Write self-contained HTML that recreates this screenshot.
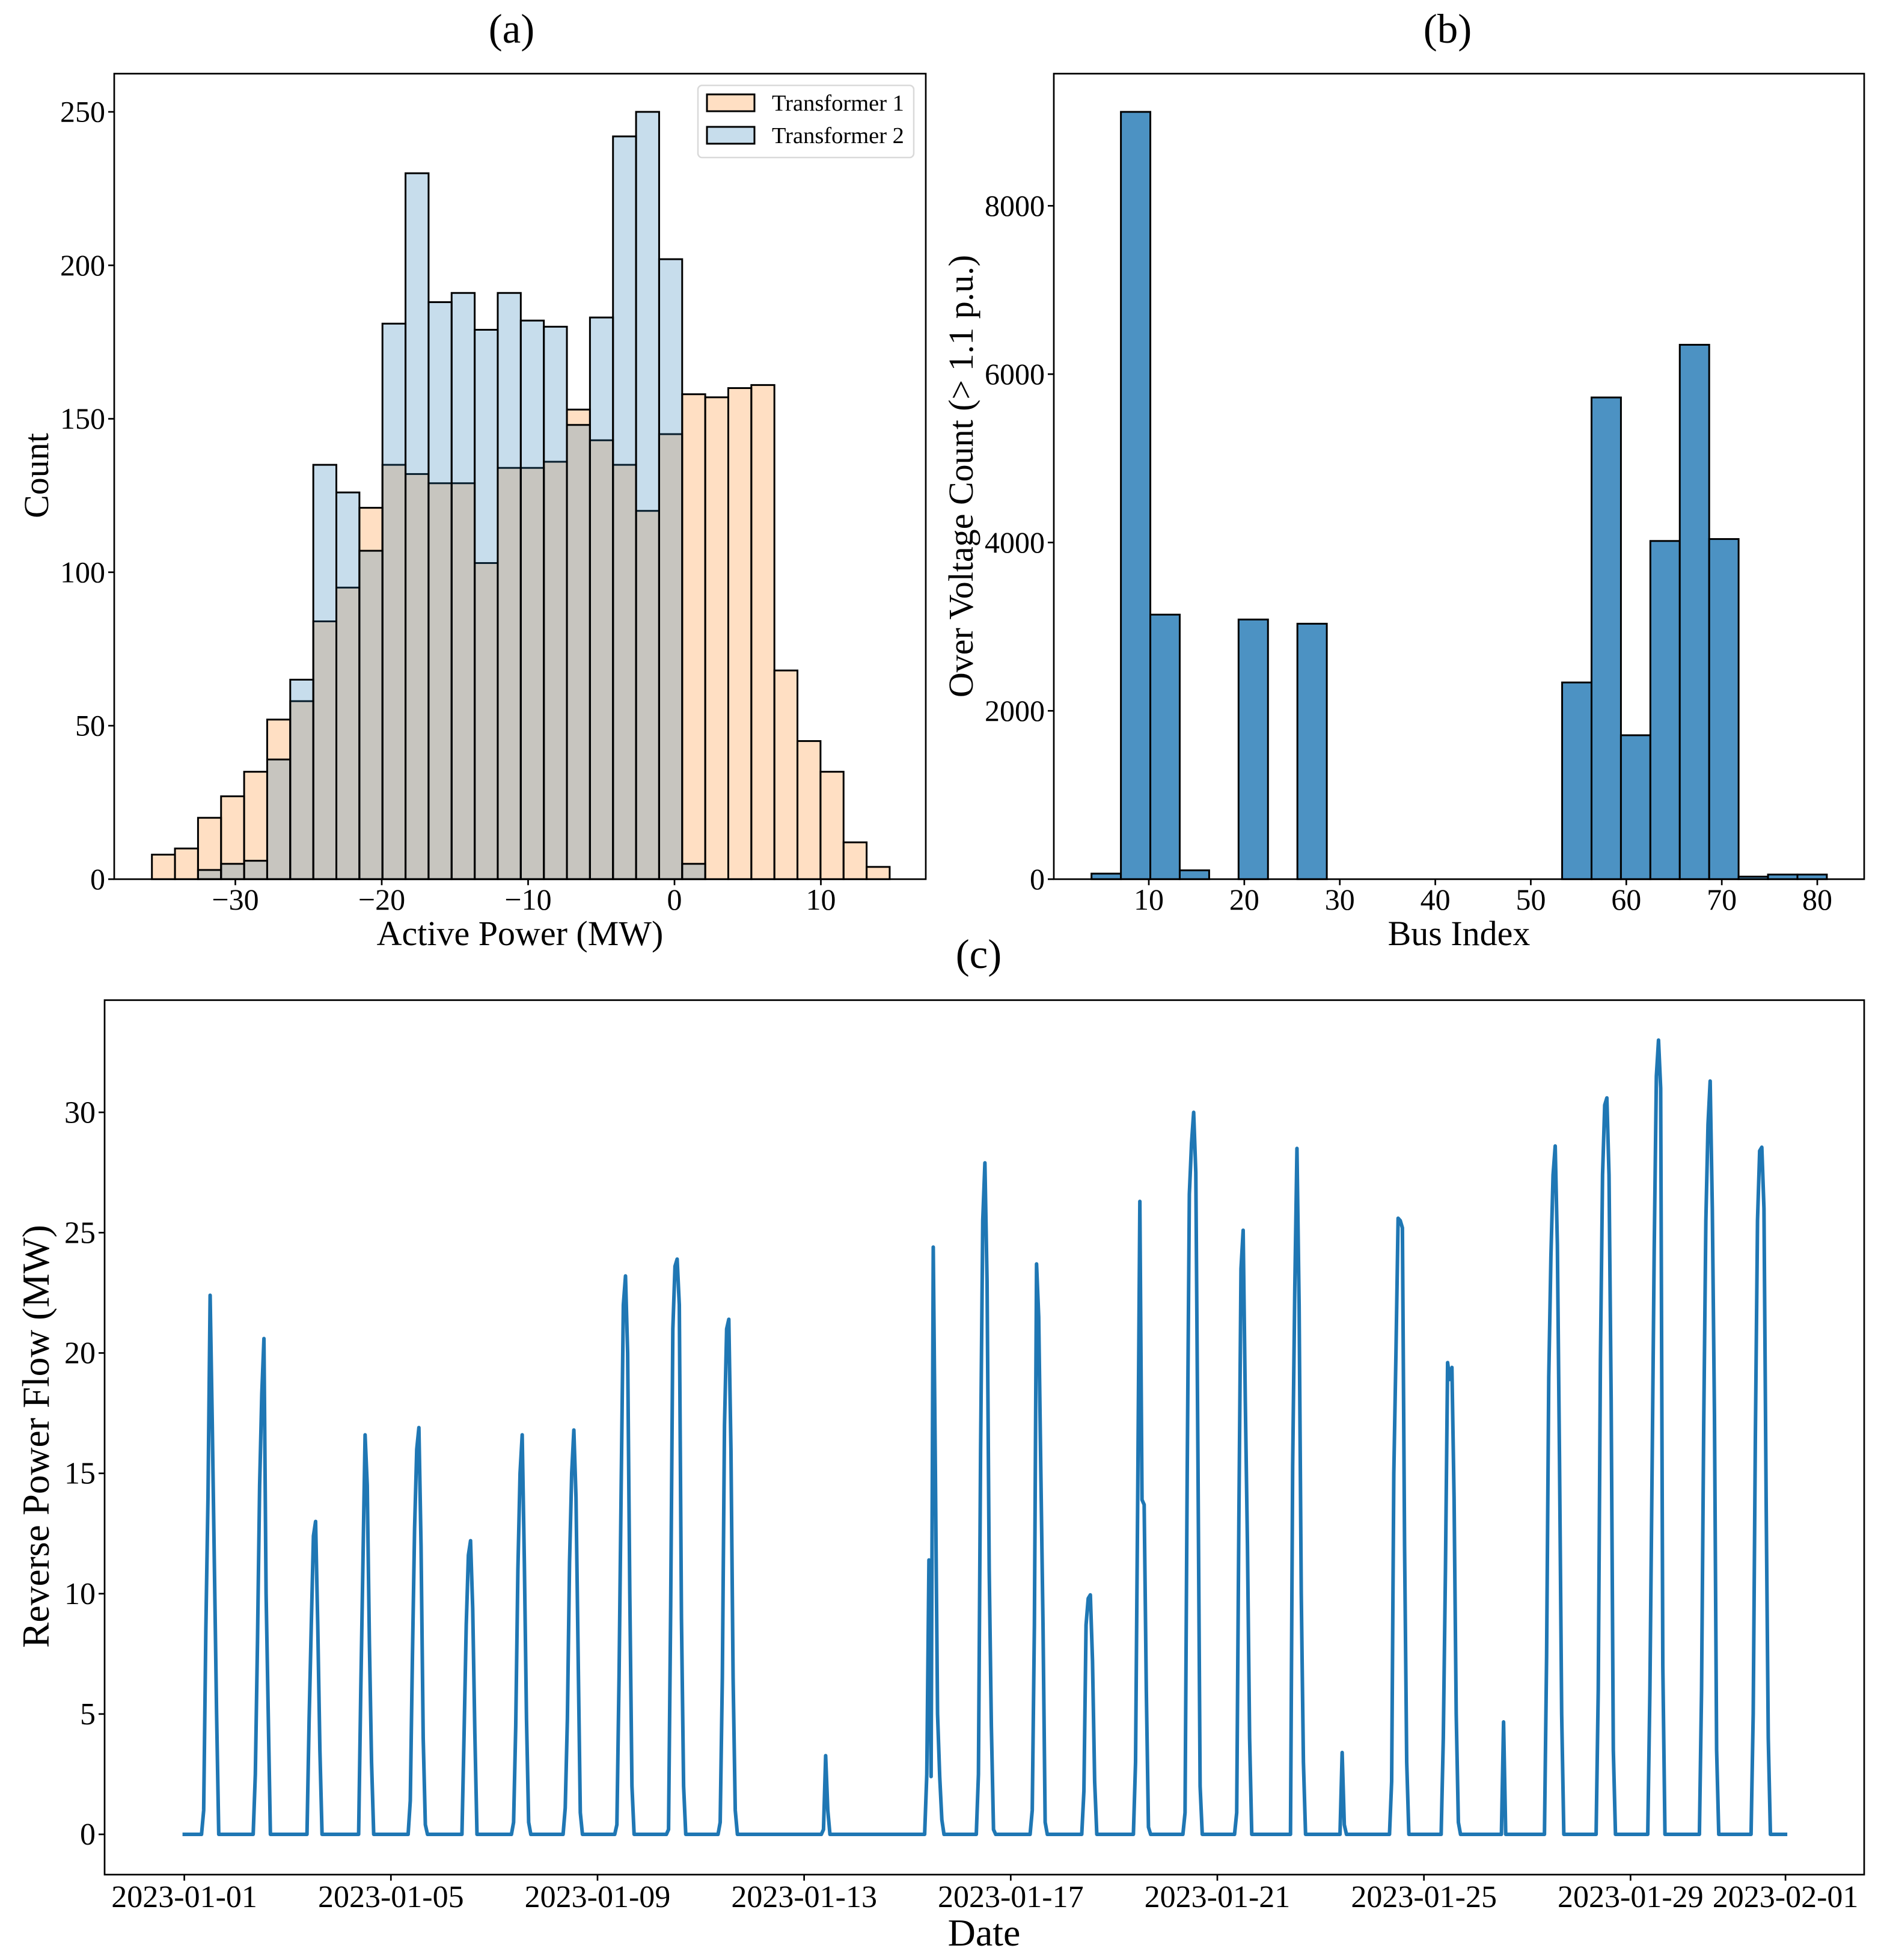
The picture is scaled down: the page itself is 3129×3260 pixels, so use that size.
<!DOCTYPE html>
<html lang="en">
<head>
<meta charset="utf-8">
<title>Transformer power, over-voltage and reverse power flow</title>
<style>
  html, body { margin: 0; padding: 0; background: #fff; }
  svg { display: block; font-family: "Liberation Serif", "Times New Roman", serif; }
  text { fill: #000; }
</style>
</head>
<body>
<svg id="chart" xmlns="http://www.w3.org/2000/svg" width="3129" height="3260" viewBox="0 0 3129 3260">
  <rect x="0" y="0" width="3129" height="3260" fill="#fff"/>
  <g id="panel-a"></g>
  <g id="panel-b"></g>
  <g id="panel-c"></g>

  <text x="851" y="71" font-size="69" text-anchor="middle">(a)</text>
  <text x="2408" y="71" font-size="69" text-anchor="middle">(b)</text>
  <text x="1628" y="1610" font-size="69" text-anchor="middle">(c)</text>

  <text x="865" y="1572" font-size="58" text-anchor="middle">Active Power (MW)</text>
  <text transform="translate(80,791) rotate(-90)" font-size="58" text-anchor="middle">Count</text>
  <text x="2427" y="1572" font-size="58" text-anchor="middle">Bus Index</text>
  <text transform="translate(1618,792) rotate(-90)" font-size="58" text-anchor="middle">Over Voltage Count (&gt; 1.1 p.u.)</text>
  <text x="1637" y="3236" font-size="64" text-anchor="middle">Date</text>
  <text transform="translate(81,2389) rotate(-90)" font-size="63.5" text-anchor="middle">Reverse Power Flow (MW)</text>

  <g>
    <rect x="1161" y="142" width="359" height="120" rx="7" ry="7" fill="#fff" fill-opacity="0.8" stroke="#d9d9d9" stroke-width="2.5"/>
    <rect x="1176" y="157" width="79" height="28" fill="#ff7f0e" fill-opacity="0.25" stroke="#000" stroke-width="3"/>
    <text x="1284" y="184" font-size="38.5">Transformer 1</text>
    <rect x="1176" y="211" width="79" height="28" fill="#1f77b4" fill-opacity="0.25" stroke="#000" stroke-width="3"/>
    <text x="1284" y="238" font-size="38.5">Transformer 2</text>
  </g>
</svg>

<script>
// ---- Panel (a): active power histogram ----
const powerBinStart = -35.7;
const powerBinWidth = 1.575;
const transformer1Counts = [8,10,20,27,35,52,58,84,95,121,135,132,129,129,103,134,134,136,153,143,135,120,145,158,157,160,161,68,45,35,12,4];
const transformer2Counts = [0,0,3,5,6,39,65,135,126,107,181,230,188,191,179,191,182,180,148,183,242,250,202,5,0,0,0,0,0,0,0,0];
const powerXTicks = [-30,-20,-10,0,10];
const countYTicks = [0,50,100,150,200,250];

// ---- Panel (b): over-voltage histogram ----
const busBinStart = 4;
const busBinWidth = 3.08;
const overVoltageCounts = [66,9116,3143,105,0,3085,0,3035,0,0,0,0,0,0,0,0,2337,5723,1710,4018,6349,4041,30,55,55];
const busXTicks = [10,20,30,40,50,60,70,80];
const overVoltageYTicks = [0,2000,4000,6000,8000];

// ---- Panel (c): reverse power flow ----
const profileHours = [8,9,10,11,12,13,14,15,16,17];
const reverseFlowMW = [
  0,1,8.5,14,22.4,17,11,5,0,0,               // Jan 1
  0,2.5,8,14.5,18.3,20.6,10,5,0,0,           // Jan 2
  0,0,4.8,8.7,12.4,13,8.7,3.5,0,0,           // Jan 3
  0,0,6,11.3,16.6,14.5,8,3,0,0,              // Jan 4
  0,1.4,7.4,12.7,16,16.9,12,4,.4,0,          // Jan 5
  0,0,4.2,8.7,11.6,12.2,9.4,4.2,0,0,         // Jan 6
  0,.5,4.5,11,15,16.6,11.3,4.8,.5,0,         // Jan 7
  0,1.1,4.8,11.3,15,16.8,14,7.4,.9,0,        // Jan 8
  0,.4,6.5,14.5,22,23.2,20,10,2,0,           // Jan 9
  0,.2,9.5,21,23.6,23.9,22,9,2,0,            // Jan 10
  0,.5,6.5,17,21,21.4,16,6.5,1,0,            // Jan 11
  0,0,0,0,0,0,0,0,0,0,                       // Jan 12
  0,.2,3.27,1,0,0,0,0,0,0,                   // Jan 13
  0,0,0,0,0,0,0,0,0,0,                       // Jan 14
  0,2.5,11.4,2.4,24.4,15,5,2.4,.6,0,         // Jan 15
  0,2.5,16,25.5,27.9,23,11,4.5,.2,0,         // Jan 16
  0,0,1,8.7,23.7,21.5,15,8.7,.5,0,           // Jan 17
  0,0,1.8,8.7,9.8,9.95,7.2,2.2,0,0,          // Jan 18
  0,0,3,14,26.3,13.9,13.7,6,.3,0,            // Jan 19
  0,.9,15,26.6,28.7,30,27.5,15.5,2,0,        // Jan 20
  0,.9,13,23.5,25.1,18,12,4,0,0,             // Jan 21
  0,0,0,15.3,22.7,28.5,22,10,3,0,            // Jan 22
  0,0,3.4,.4,0,0,0,0,0,0,                    // Jan 23
  0,2.2,15,20,25.6,25.5,25.2,12,3,0,         // Jan 24
  0,4,11,19.6,18.9,19.4,14,5,.5,0,           // Jan 25
  0,0,0,0,0,4.67,0,0,0,0,                    // Jan 26
  0,7.4,19,24,27.4,28.6,24.5,15.5,5,0,       // Jan 27
  0,6,19.7,27.4,30.3,30.6,27.4,18,3.5,0,     // Jan 28
  0,6,15,24.3,31.5,33,31,7,0,0,              // Jan 29
  0,6,17,25.5,29.5,31.3,26,17.4,3.5,0,       // Jan 30
  0,5,16.5,25.5,28.4,28.55,26,14,4,0         // Jan 31
];
const dateTickDays = [0,4,8,12,16,20,24,28,31];
const dateTickLabels = ['2023-01-01','2023-01-05','2023-01-09','2023-01-13','2023-01-17','2023-01-21','2023-01-25','2023-01-29','2023-02-01'];
const flowYTicks = [0,5,10,15,20,25,30];
const seriesDays = 31;

const NS = 'http://www.w3.org/2000/svg';
const SPINE = 2.7, TICK = 10;

// Axis functions
const xA = v => 1122 + 24.35 * v;
const yA = v => 1462.3 - 5.105 * v;
const xB = v => 1911 + 15.886 * (v - 10);
const yB = v => 1462.3 - 0.14 * v;
const xC = d => 306.6 + 85.92 * d;
const yC = v => 3051 - 40.03 * v;

const boxA = { l: 190, r: 1540, t: 122.5, b: 1462.3 };
const boxB = { l: 1753, r: 3101, t: 122.5, b: 1462.3 };
const boxC = { l: 174, r: 3101, t: 1663.5, b: 3118 };

function svgEl(tag, parent) {
  const el = document.createElementNS(NS, tag);
  parent.appendChild(el);
  return el;
}
function fmt(v) { return v < 0 ? '\u2212' + Math.abs(v) : String(v); }

function drawBar(parent, x0, x1, y0, y1, fill, opacity, name) {
  const r = svgEl('rect', parent);
  r.setAttribute('x', x0);
  r.setAttribute('y', y1);
  r.setAttribute('width', x1 - x0);
  r.setAttribute('height', Math.max(0, y0 - y1));
  r.setAttribute('fill', fill);
  r.setAttribute('fill-opacity', opacity);
  r.setAttribute('stroke', '#000');
  r.setAttribute('stroke-width', 3);
  
  
}

function drawFrame(parent, box, prefix) {
  const f = svgEl('rect', parent);
  f.setAttribute('x', box.l);
  f.setAttribute('y', box.t);
  f.setAttribute('width', box.r - box.l);
  f.setAttribute('height', box.b - box.t);
  f.setAttribute('fill', 'none');
  f.setAttribute('stroke', '#000');
  f.setAttribute('stroke-width', SPINE);
  
  
}

function xTick(parent, x, box, label, size, baseline, prefix) {
  const t = svgEl('line', parent);
  t.setAttribute('x1', x);
  t.setAttribute('x2', x);
  t.setAttribute('y1', box.b);
  t.setAttribute('y2', box.b + TICK);
  t.setAttribute('stroke', '#000');
  t.setAttribute('stroke-width', SPINE);
  
  
  const s = svgEl('text', parent);
  s.setAttribute('x', x);
  s.setAttribute('y', baseline);
  s.setAttribute('font-size', size);
  s.setAttribute('text-anchor', 'middle');
  s.textContent = label;
  
  
}

function yTick(parent, y, box, label, size, prefix) {
  const t = svgEl('line', parent);
  t.setAttribute('x1', box.l - TICK);
  t.setAttribute('x2', box.l);
  t.setAttribute('y1', y);
  t.setAttribute('y2', y);
  t.setAttribute('stroke', '#000');
  t.setAttribute('stroke-width', SPINE);
  
  
  const s = svgEl('text', parent);
  s.setAttribute('x', box.l - TICK - 5);
  s.setAttribute('y', y + size * 0.33);
  s.setAttribute('font-size', size);
  s.setAttribute('text-anchor', 'end');
  s.textContent = label;
  
  
}

// Panel (a)
const gA = document.getElementById('panel-a');
transformer1Counts.forEach((c, i) => {
  drawBar(gA, xA(powerBinStart + i * powerBinWidth), xA(powerBinStart + (i + 1) * powerBinWidth), yA(0), yA(c), '#ff7f0e', 0.25, 'transformer-1-bar');
});
transformer2Counts.forEach((c, i) => {
  drawBar(gA, xA(powerBinStart + i * powerBinWidth), xA(powerBinStart + (i + 1) * powerBinWidth), yA(0), yA(c), '#1f77b4', 0.25, 'transformer-2-bar');
});
drawFrame(gA, boxA, 'panel-a');
powerXTicks.forEach(v => xTick(gA, xA(v), boxA, fmt(v), 50, 1513, 'panel-a'));
countYTicks.forEach(v => yTick(gA, yA(v), boxA, fmt(v), 50, 'panel-a'));

// Panel (b)
const gB = document.getElementById('panel-b');
overVoltageCounts.forEach((c, i) => {
  drawBar(gB, xB(busBinStart + i * busBinWidth), xB(busBinStart + (i + 1) * busBinWidth), yB(0), yB(c), '#4c92c3', 1, 'over-voltage-bar');
});
drawFrame(gB, boxB, 'panel-b');
busXTicks.forEach(v => xTick(gB, xB(v), boxB, fmt(v), 50, 1513, 'panel-b'));
overVoltageYTicks.forEach(v => yTick(gB, yB(v), boxB, fmt(v), 50, 'panel-b'));

// Panel (c)
const gC = document.getElementById('panel-c');
const pts = [[xC(0), yC(0)]];
reverseFlowMW.forEach((v, i) => {
  const perDay = profileHours.length;
  const day = Math.floor(i / perDay);
  const hour = profileHours[i % perDay];
  pts.push([xC(day + hour / 24), yC(v)]);
});
pts.push([xC(seriesDays), yC(0)]);
const flowLine = svgEl('polyline', gC);
flowLine.setAttribute('points', pts.map(p => p[0].toFixed(2) + ',' + p[1].toFixed(2)).join(' '));
flowLine.setAttribute('fill', 'none');
flowLine.setAttribute('stroke', '#1f77b4');
flowLine.setAttribute('stroke-width', 6);
flowLine.setAttribute('stroke-linejoin', 'round');
flowLine.setAttribute('stroke-linecap', 'square');


drawFrame(gC, boxC, 'panel-c');
dateTickDays.forEach((d, i) => xTick(gC, xC(d), boxC, dateTickLabels[i], 52, 3172, 'panel-c'));
flowYTicks.forEach(v => yTick(gC, yC(v), boxC, fmt(v), 52, 'panel-c'));
</script>
</body>
</html>
